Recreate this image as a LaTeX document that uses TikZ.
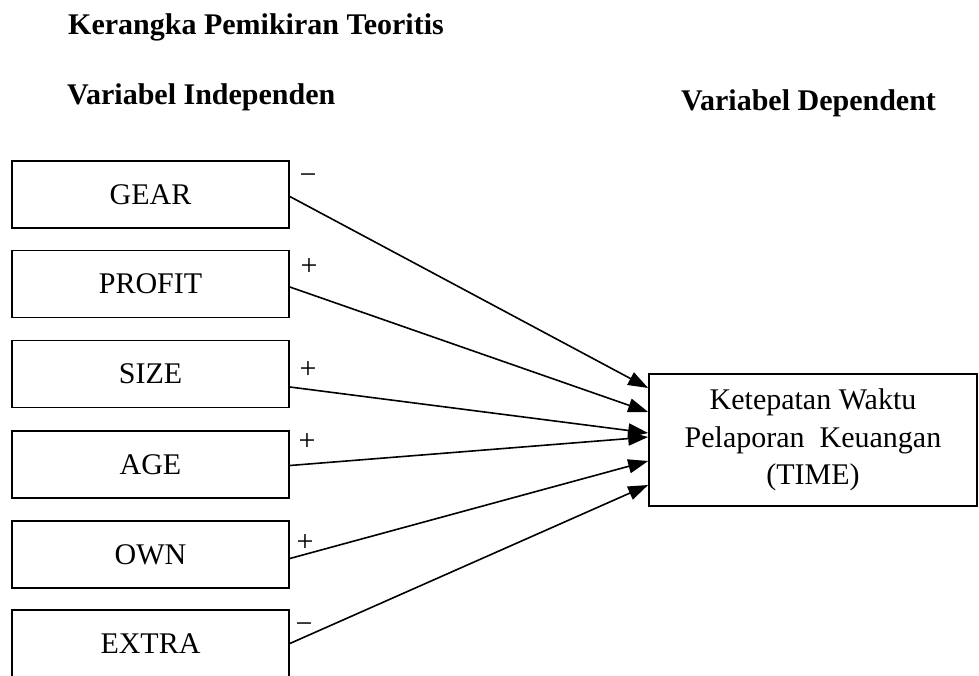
\documentclass[tikz,border=0pt]{standalone}
\usepackage{fontspec}
\setmainfont{Liberation Serif}
\usetikzlibrary{arrows.meta,calc}
\tikzset{
  varbox/.style={draw,line width=1.7pt,minimum width=277pt,minimum height=67pt,inner sep=0pt,
    font=\fontsize{30}{37.5}\selectfont},
  timebox/.style={draw,line width=1.7pt,minimum width=328pt,minimum height=132pt,inner sep=0pt,
    align=center,font=\fontsize{30}{37.5}\selectfont},
  heading/.style={inner sep=0pt,anchor=base west,font=\fontsize{30}{36}\selectfont\bfseries},
  sign/.style={inner sep=0pt,font=\fontsize{30}{36}\selectfont},
  link/.style={line width=1.6pt,-{Triangle[length=20pt,width=14pt]}}
}
\begin{document}
\begin{tikzpicture}[x=1pt,y=-1pt]
\useasboundingbox (0,0) rectangle (979,676);
% headings
\node[heading] (title) at (68,35) {Kerangka Pemikiran Teoritis};
\node[heading] (indep) at (67,105) {Variabel Independen};
\node[heading] (dep) at (681,111) {Variabel Dependent};
% independent variables
\node[varbox] (gear) at (150.5,194.5) {GEAR};
\node[varbox] (profit) at (150.5,284) {PROFIT};
\node[varbox] (size) at (150.5,374) {SIZE};
\node[varbox] (age) at (150.5,464.5) {AGE};
\node[varbox] (own) at (150.5,554.5) {OWN};
\node[varbox] (extra) at (150.5,643.5) {EXTRA};
% dependent variable
\node[timebox] (time) at (813,440) {Ketepatan Waktu\\Pelaporan\hspace{0.5em}Keuangan\\(TIME)};
% connectors
\draw[link] ([yshift=-2pt]gear.east) -- ([yshift=52pt]time.west);
\draw[link] ([yshift=-3pt]profit.east) -- ([yshift=28pt]time.west);
\draw[link] ([yshift=-13pt]size.east) -- ([yshift=7pt]time.west);
\draw[link] ([yshift=-1pt]age.east) -- ([yshift=3pt]time.west);
\draw[link] ([yshift=-4pt]own.east) -- ([yshift=-21pt]time.west);
\draw[link] (extra.east) -- ([yshift=-45pt]time.west);
% signs
\node[sign] (sgear) at (308,179) {−};
\node[sign] (sprofit) at (309,267) {+};
\node[sign] (ssize) at (308,370) {+};
\node[sign] (sage) at (307,442) {+};
\node[sign] (sown) at (305,543) {+};
\node[sign] (sextra) at (304,628) {−};
\end{tikzpicture}
\end{document}
